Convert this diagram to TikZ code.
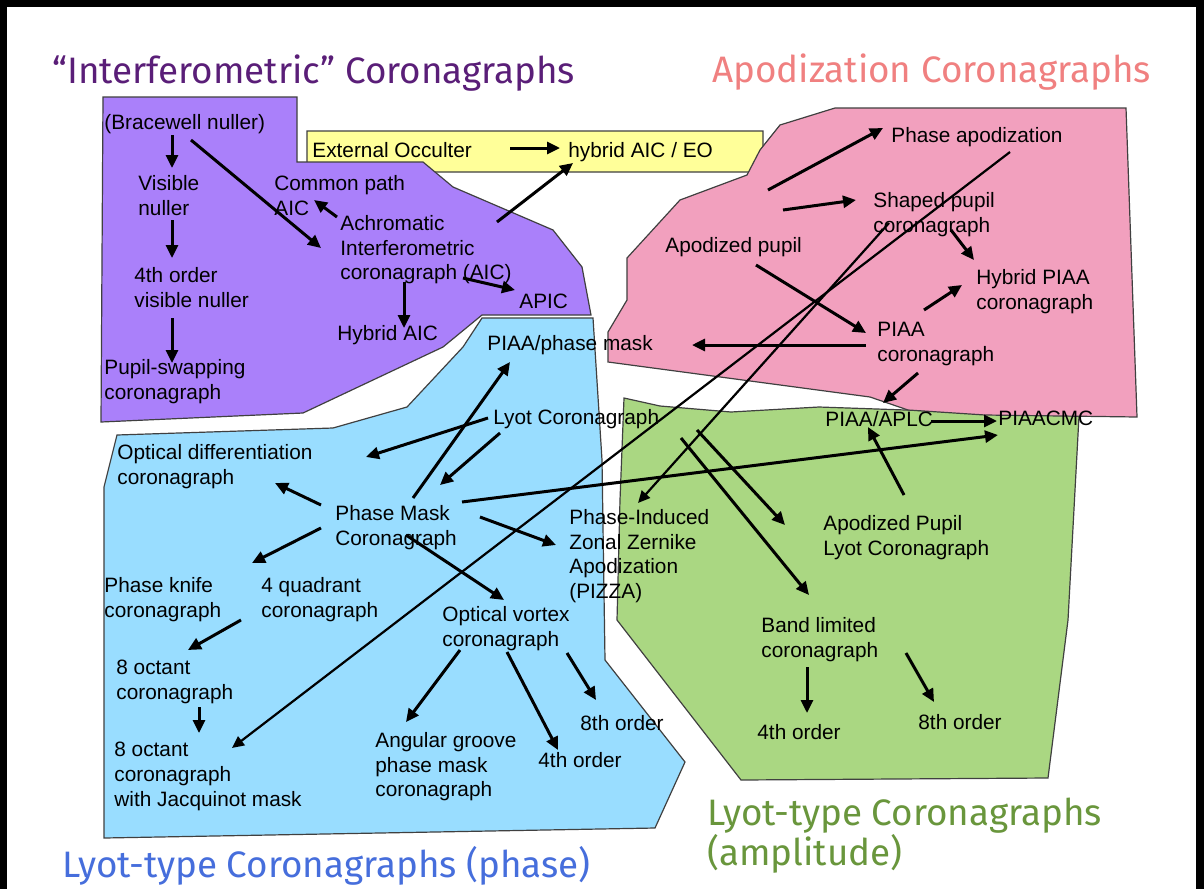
\documentclass[tikz,border=0pt]{standalone}
\usepackage{fontspec}
\setmainfont{Liberation Sans}
\newfontfamily\headfont{Fira Sans}
\usetikzlibrary{arrows.meta,calc}
\definecolor{interfill}{RGB}{170,128,250}
\definecolor{eofill}{RGB}{255,255,153}
\definecolor{apodfill}{RGB}{242,160,190}
\definecolor{phasefill}{RGB}{153,221,255}
\definecolor{amplfill}{RGB}{170,215,130}
\definecolor{intertext}{RGB}{90,30,120}
\definecolor{apodtext}{RGB}{240,128,128}
\definecolor{phasetext}{RGB}{70,110,220}
\definecolor{ampltext}{RGB}{105,150,60}
\tikzset{
 region/.style={draw=black!75,line width=.6pt},
 lbl/.style={anchor=north west,inner sep=0pt,align=left,font=\fontsize{10.4}{12.3}\selectfont},
 heading/.style={anchor=base west,inner sep=0pt,font=\headfont\fontsize{18.4}{22}\selectfont},
 link/.style={-{Triangle[length=6.5pt,width=6pt]},line width=1.5pt},
 longlink/.style={-{Triangle[length=6pt,width=5.5pt]},line width=1.1pt}
}

\begin{document}
\begin{tikzpicture}[x=.5pt,y=-.5pt]
\fill[black] (0,0) rectangle (1204,889);
\fill[white] (7,7) rectangle (1196,889);
\useasboundingbox (0,0) rectangle (1204,889);
% regions
\filldraw[region,fill=amplfill] (624,398) -- (660,406) -- (731,412) -- (819,407) -- (1079,416) -- (1068,620) -- (1048,778) -- (741,780) -- (617,620) -- (620,500) -- cycle;
\filldraw[region,fill=phasefill] (482,318) -- (593,318) -- (602,460) -- (605,660) -- (685,762) -- (655,828) -- (104,838) -- (104,487) -- (117,435) -- (333,428) -- (407,407) -- (463,347) -- cycle;
\filldraw[region,fill=eofill] (307,131) -- (763,131) -- (763,160) -- (754,172) -- (307,172) -- cycle;
\filldraw[region,fill=interfill] (103,97) -- (297,97) -- (297,162) -- (423,162) -- (453,187) -- (553,230) -- (582,267) -- (591,315) -- (482,315) -- (443,347) -- (303,413) -- (101,422) -- cycle;
\filldraw[region,fill=apodfill] (780,125) -- (835,108) -- (1126,108) -- (1137,417) -- (985,415) -- (908,410) -- (870,397) -- (608,362) -- (608,332) -- (627,300) -- (627,258) -- (680,200) -- (747,175) -- (760,150) -- cycle;
% headings
\node[heading,text=intertext] (interhead) at (52,83) {“Interferometric” Coronagraphs};
\node[heading,text=apodtext] (apodhead) at (712,82) {Apodization Coronagraphs};
\node[heading,text=phasetext] (phasehead) at (62,877) {Lyot-type Coronagraphs (phase)};
\node[heading,text=ampltext] (amplhead) at (707,825) {Lyot-type Coronagraphs};
\node[heading,text=ampltext] (amplsub) at (707,865) {(amplitude)};
% interferometric
\node[lbl] (brace) at (104,114) {(Bracewell nuller)};
\node[lbl] (visible) at (138,175) {Visible\\nuller};
\node[lbl] (fourth) at (134,267) {4th order\\visible nuller};
\node[lbl] (pupilswap) at (104,359) {Pupil-swapping\\coronagraph};
\node[lbl] (commonpath) at (274,175) {Common path\\AIC};
\node[lbl] (aic) at (340,215) {Achromatic\\Interferometric\\coronagraph (AIC)};
\node[lbl] (apic) at (519,294) {APIC};
\node[lbl] (hybridaic) at (337,325) {Hybrid AIC};
\node[lbl] (extocc) at (312,142) {External Occulter};
\node[lbl] (hybrideo) at (568,142) {hybrid AIC / EO};
% apodization
\node[lbl] (phaseapod) at (891,127) {Phase apodization};
\node[lbl] (shaped) at (873,192) {Shaped pupil\\coronagraph};
\node[lbl] (apodpupil) at (665,237) {Apodized pupil};
\node[lbl] (hybridpiaa) at (976,269) {Hybrid PIAA\\coronagraph};
\node[lbl] (piaa) at (877,322) {PIAA\\coronagraph};
\node[lbl] (piaaaplc) at (825,411) {PIAA/APLC};
\node[lbl] (piaacmc) at (998,411) {PIAACMC};
% phase
\node[lbl] (piaaphase) at (487,335) {PIAA/phase mask};
\node[lbl] (lyot) at (493,409) {Lyot Coronagraph};
\node[lbl] (optdiff) at (117,444) {Optical differentiation\\coronagraph};
\node[lbl] (phasemask) at (335,505) {Phase Mask\\Coronagraph};
\node[lbl] (knife) at (104,577) {Phase knife\\coronagraph};
\node[lbl] (quadrant) at (261,577) {4 quadrant\\coronagraph};
\node[lbl] (vortex) at (442,606) {Optical vortex\\coronagraph};
\node[lbl] (octant) at (116,660) {8 octant\\coronagraph};
\node[lbl] (jacquinot) at (114,742) {8 octant\\coronagraph\\with Jacquinot mask};
\node[lbl] (angular) at (375,732) {Angular groove\\phase mask\\coronagraph};
\node[lbl] (vfourth) at (538,752) {4th order};
\node[lbl] (veighth) at (580,715) {8th order};
\node[lbl] (pizza) at (569,509) {Phase-Induced\\Zonal Zernike\\Apodization\\(PIZZA)};
% amplitude
\node[lbl] (aplc) at (823,515) {Apodized Pupil\\Lyot Coronagraph};
\node[lbl] (bandlim) at (761,617) {Band limited\\coronagraph};
\node[lbl] (bfourth) at (757,724) {4th order};
\node[lbl] (beighth) at (918,714) {8th order};
% links
\draw[link] ($(brace.north west)+(68,21)$) -- ($(visible.north west)+(34,-7)$);
\draw[link] ($(visible.north west)+(34,45)$) -- ($(fourth.north west)+(38,-9)$);
\draw[link] ($(fourth.north west)+(38,51)$) -- ($(pupilswap.north west)+(68,4)$);
\draw[link] ($(brace.north west)+(87,26)$) -- ($(aic.north west)+(-19,33)$);
\draw[link] ($(aic.north west)+(-3,2)$) -- ($(commonpath.north west)+(40,25)$);
\draw[link] ($(aic.north west)+(123,63)$) -- ($(apic.north west)+(-4,-4)$);
\draw[link] ($(aic.north west)+(64,67)$) -- ($(hybridaic.north west)+(67,3)$);
\draw[link] ($(aic.north west)+(157,7)$) -- ($(hybrideo.north west)+(5,21)$);
\draw[link] ($(extocc.north west)+(198,6)$) -- ($(hybrideo.north west)+(-8,6)$);
\draw[link] ($(apodpupil.north west)+(103,-47)$) -- ($(phaseapod.north west)+(-8,1)$);
\draw[link] ($(apodpupil.north west)+(118,-27)$) -- ($(shaped.north west)+(-17,8)$);
\draw[link] ($(shaped.north west)+(78,38)$) -- ($(hybridpiaa.north west)+(-2,-9)$);
\draw[link] ($(piaa.north west)+(47,-12)$) -- ($(hybridpiaa.north west)+(-14,16)$);
\draw[link] ($(apodpupil.north west)+(91,28)$) -- ($(piaa.north west)+(-11,11)$);
\draw[link] ($(piaa.north west)+(-11,23)$) -- ($(piaaphase.north west)+(205,10)$);
\draw[link] ($(piaa.north west)+(41,51)$) -- ($(piaaaplc.north west)+(58,-8)$);
\draw[link] ($(piaaaplc.north west)+(106,10)$) -- ($(piaacmc.north west)+(-1,10)$);
\draw[longlink] ($(shaped.north west)+(16,31)$) -- ($(pizza.north west)+(69,-6)$);
\draw[longlink] ($(phaseapod.north west)+(119,25)$) -- ($(jacquinot.north west)+(118,6)$);
\draw[link] ($(lyot.north west)+(188,29)$) -- ($(bandlim.north west)+(48,-22)$);
\draw[link] ($(lyot.north west)+(204,21)$) -- ($(aplc.north west)+(-38,10)$);
\draw[link] ($(aplc.north west)+(81,-20)$) -- ($(piaaaplc.north west)+(43,16)$);
\draw[link] ($(phasemask.north west)+(127,-3)$) -- ($(piaacmc.north west)+(0,24)$);
\draw[link] ($(phasemask.north west)+(78,-7)$) -- ($(piaaphase.north west)+(23,27)$);
\draw[link] ($(lyot.north west)+(-5,9)$) -- ($(optdiff.north west)+(249,13)$);
\draw[link] ($(lyot.north west)+(7,24)$) -- ($(phasemask.north west)+(105,-20)$);
\draw[link] ($(phasemask.north west)+(-14,0)$) -- ($(optdiff.north west)+(158,39)$);
\draw[link] ($(phasemask.north west)+(-14,23)$) -- ($(knife.north west)+(148,-14)$);
\draw[link] ($(phasemask.north west)+(145,12)$) -- ($(pizza.north west)+(-13,36)$);
\draw[link] ($(phasemask.north west)+(71,30)$) -- ($(vortex.north west)+(62,-6)$);
\draw[link] ($(quadrant.north west)+(-20,43)$) -- ($(octant.north west)+(72,-10)$);
\draw[link] ($(octant.north west)+(83,47)$) -- ($(jacquinot.north west)+(85,-9)$);
\draw[link] ($(vortex.north west)+(18,44)$) -- ($(angular.north west)+(31,-10)$);
\draw[link] ($(vortex.north west)+(65,46)$) -- ($(vfourth.north west)+(20,-2)$);
\draw[link] ($(vortex.north west)+(125,47)$) -- ($(veighth.north west)+(16,-15)$);
\draw[link] ($(bandlim.north west)+(46,50)$) -- ($(bfourth.north west)+(50,-11)$);
\draw[link] ($(bandlim.north west)+(145,36)$) -- ($(beighth.north west)+(16,-12)$);
\end{tikzpicture}
\end{document}
